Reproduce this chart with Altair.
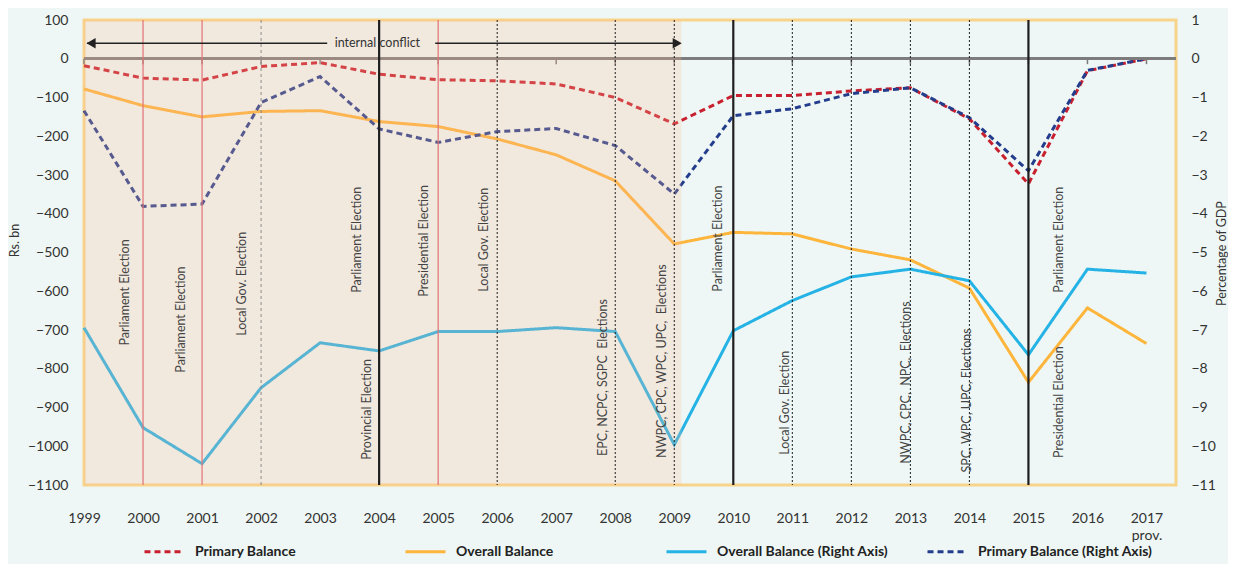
import altair as alt
import pandas as pd

# ---------------- data ----------------
years = list(range(1999, 2018))
primary_bn = [-18, -50, -55, -20, -10, -40, -54, -57, -65, -100, -168, -95, -95, -83, -75, -155, -323, -31, 0]
overall_bn = [-78, -121, -150, -136, -134, -162, -175, -207, -248, -315, -478, -448, -452, -491, -519, -592, -835, -643, -735]
overall_pct = [-6.94, -9.52, -10.45, -8.49, -7.33, -7.54, -7.04, -7.04, -6.94, -7.04, -9.96, -7.02, -6.24, -5.63, -5.43, -5.73, -7.64, -5.43, -5.53]
primary_pct = [-1.34, -3.81, -3.75, -1.13, -0.46, -1.81, -2.16, -1.88, -1.80, -2.24, -3.49, -1.47, -1.29, -0.90, -0.75, -1.52, -2.89, -0.30, 0.0]

series_names = ["Primary Balance", "Overall Balance", "Overall Balance (Right Axis)", "Primary Balance (Right Axis)"]
series_colors = ["#C8202F", "#FDB53C", "#25B3E6", "#233D8C"]
series_dash = [[6, 4], [1, 0], [1, 0], [6, 4]]

# election marker lines (year, style)
line_years = [2000, 2001, 2002, 2004, 2005, 2006, 2008, 2009, 2010, 2011, 2012, 2013, 2014, 2015]
line_styles = ["red", "red", "grey", "solid", "red", "dotted", "dotted", "dotted", "solid", "dotted", "dotted", "dotted", "dotted", "solid"]

# election labels (text, year position, Rs. bn position of text start)
NB = "\u00a0"
label_texts = ["Parliament Election", "Parliament Election", "Local Gov. Election", "Parliament Election",
               "Provincial Election", "Presidential Election", "Local Gov. Election",
               f"EPC,{NB}NCPC,{NB}SGPC{NB}{NB}Elections",
               f"NWPC,{NB}CPC,{NB}WPC,{NB}UPC,{NB}{NB}Elections", "Parliament Election",
               "Local Gov. Election", f"NWPC,{NB}CPC,{NB}{NB}NPC,{NB}{NB}Elections",
               f"SPC,{NB}WPC,{NB}UPC,{NB}Elections",
               "Parliament Election", "Presidential Election"]
label_years = [1999.69, 2000.64, 2001.68, 2003.62, 2003.80, 2004.76, 2005.78, 2007.79, 2008.79,
               2009.74, 2010.88, 2012.93, 2013.96, 2015.52, 2015.52]
label_vals = [-740, -810, -715, -604, -1035, -614, -601, -1025, -1030, -601, -1022, -1045, -1068, -604, -1030]

conflict_start, conflict_end = 1999, 2009.12
conflict_text = "internal conflict"

# ---------------- frames ----------------
df_left = pd.DataFrame({
    "year": years * 2,
    "value": primary_bn + overall_bn,
    "series": [series_names[0]] * len(years) + [series_names[1]] * len(years),
})
df_right = pd.DataFrame({
    "year": years * 2,
    "value": overall_pct + primary_pct,
    "series": [series_names[2]] * len(years) + [series_names[3]] * len(years),
})
df_lines = pd.DataFrame({"year": line_years, "style": line_styles})
df_ticks = pd.DataFrame({"year": years})
df_labels = pd.DataFrame({"text": label_texts, "year": label_years, "value": label_vals})
df_shade = pd.DataFrame({"year": [conflict_start], "year2": [conflict_end]})
df_arrow_seg = pd.DataFrame({"year": [1999.05, 2004.95], "year2": [2003.12, 2009.0]})
df_arrow_l = pd.DataFrame({"year": [1999.12]})
df_arrow_r = pd.DataFrame({"year": [2009.05]})
df_arrow_txt = pd.DataFrame({"year": [2003.97], "text": [conflict_text]})

FONT = "Lato"
xscale = alt.Scale(domain=[1999, 2017.5], nice=False, zero=False)
lscale = alt.Scale(domain=[-1100, 100], nice=False, zero=False)
rscale = alt.Scale(domain=[-11, 1], nice=False, zero=False)

xaxis = alt.Axis(values=years, format="d", title=None, ticks=False, domain=False, grid=False,
                 labelFontSize=14, labelPadding=26, labelFlush=False, labelColor="#333",
                 labelLineHeight=17,
                 labelExpr="datum.value == 2017 ? ['2017', 'prov.'] : datum.label")
xenc = alt.X("year:Q", scale=xscale, axis=xaxis)

legend = alt.Legend(orient="none", legendX=59, legendY=510, direction="horizontal", columns=4,
                    gridAlign="all", columnPadding=29, title=None, symbolType="stroke",
                    symbolSize=1600, symbolStrokeWidth=3, labelFontSize=14, labelFontWeight="bold",
                    labelColor="#222", labelOffset=9, labelFont=FONT, labelLimit=400)
color = alt.Color("series:N", scale=alt.Scale(domain=series_names, range=series_colors), legend=legend)
dash = alt.StrokeDash("series:N", scale=alt.Scale(domain=series_names, range=series_dash), legend=legend)

left_axis = alt.Axis(values=list(range(-1100, 101, 100)), format="d", title="Rs. bn", ticks=False,
                     domain=False, grid=False, labelFontSize=14, labelPadding=16, labelColor="#333",
                     titleFontSize=12.5, titleFontWeight="normal", titleColor="#333",
                     titleAngle=270, titleX=-70, titleY=220, titleAlign="center", titleBaseline="middle")
right_axis = alt.Axis(orient="right", values=list(range(-11, 2)), format="d", title="Percentage of GDP",
                      ticks=False, domain=False, grid=False, labelFontSize=14, labelPadding=15,
                      labelColor="#333", titleFontSize=12.5, titleFontWeight="normal", titleColor="#333",
                      titleAngle=270, titleX=45, titleY=233, titleAlign="center", titleBaseline="middle")

left_lines = alt.Chart(df_left).mark_line(strokeWidth=3).encode(
    x=xenc, y=alt.Y("value:Q", scale=lscale, axis=left_axis), color=color, strokeDash=dash)
right_lines = alt.Chart(df_right).mark_line(strokeWidth=3).encode(
    x=xenc, y=alt.Y("value:Q", scale=rscale, axis=right_axis), color=color, strokeDash=dash)

zero_line = alt.Chart(df_ticks).mark_rule(color="#7c7c7c", strokeWidth=2).encode(
    y=alt.Y(datum=0, scale=lscale, axis=None))
zero_ticks = alt.Chart(df_ticks).mark_rule(color="#7c7c7c", strokeWidth=1.5).encode(
    x=xenc, y=alt.Y(datum=0, scale=lscale, axis=None), y2=alt.Y2(datum=-14))
shade = alt.Chart(df_shade).mark_rect(color="#FBB798", opacity=0.24).encode(x=xenc, x2="year2:Q")

red_lines = alt.Chart(df_lines).transform_filter(alt.datum.style == "red").mark_rule(
    color="#E27275", strokeWidth=1.2).encode(x=xenc)
grey_lines = alt.Chart(df_lines).transform_filter(alt.datum.style == "grey").mark_rule(
    color="#8a8a8a", strokeWidth=1, strokeDash=[3, 3]).encode(x=xenc)
solid_lines = alt.Chart(df_lines).transform_filter(alt.datum.style == "solid").mark_rule(
    color="#1e1e1e", strokeWidth=2.2).encode(x=xenc)
dotted_lines = alt.Chart(df_lines).transform_filter(alt.datum.style == "dotted").mark_rule(
    color="#1e1e1e", strokeWidth=1, strokeDash=[2, 2]).encode(x=xenc)

arrow_seg = alt.Chart(df_arrow_seg).mark_rule(color="#222", strokeWidth=1.3).encode(
    x=xenc, x2="year2:Q", y=alt.Y(datum=40, scale=lscale, axis=None))
arrow_l = alt.Chart(df_arrow_l).mark_point(shape="triangle-left", filled=True, size=110, color="#222",
                                           opacity=1).encode(x=xenc, y=alt.Y(datum=40, scale=lscale, axis=None))
arrow_r = alt.Chart(df_arrow_r).mark_point(shape="triangle-right", filled=True, size=110, color="#222",
                                           opacity=1).encode(x=xenc, y=alt.Y(datum=40, scale=lscale, axis=None))
arrow_txt = alt.Chart(df_arrow_txt).mark_text(fontSize=12.5, color="#333", font=FONT, baseline="middle").encode(
    x=xenc, y=alt.Y(datum=40, scale=lscale, axis=None), text="text:N")

labels = alt.Chart(df_labels).mark_text(angle=270, align="left", baseline="middle", fontSize=12.5,
                                        color="#444", font=FONT).encode(
    x=xenc, y=alt.Y("value:Q", scale=lscale, axis=None), text="text:N")

annot = alt.layer(zero_line, zero_ticks, shade, red_lines, grey_lines, solid_lines, dotted_lines,
                  arrow_seg, arrow_l, arrow_r, arrow_txt, labels)

chart = alt.layer(left_lines, right_lines, annot).resolve_scale(y="independent").properties(
    width=1092, height=465,
    autosize=alt.AutoSizeParams(type="none"),
    padding={"left": 76, "top": 12, "right": 52, "bottom": 79},
).configure(background="#EEF7F5", font=FONT).configure_view(stroke="#F7D48A", strokeWidth=3)

chart.save("out.html", embed_options={"renderer": "svg", "actions": False})
